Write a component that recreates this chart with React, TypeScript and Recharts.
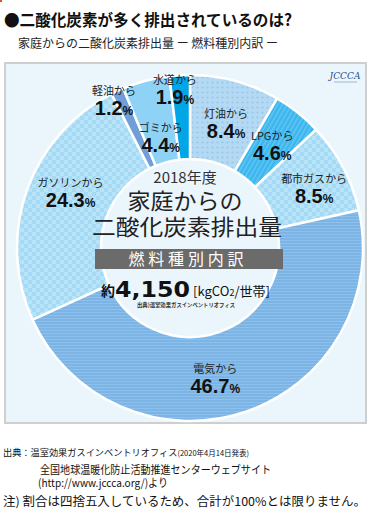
import { PieChart, Pie, Cell } from "recharts";

const sources = ["灯油", "LPG", "都市ガス", "電気", "ガソリン", "軽油", "ゴミ", "水道"];
const shares = [8.4, 4.6, 8.5, 46.7, 24.3, 1.2, 4.4, 1.9];

const data = sources.map((name, i) => ({ name, value: shares[i] }));

const FILLS = [
  "url(#dots)",
  "url(#diag)",
  "url(#check)",
  "url(#hlines)",
  "url(#check)",
  "#6f9fd6",
  "#8ed3f5",
  "#00a6e6",
];

// label placement: [radius, angle nudge in degrees, clockwise]
const LABEL_POS: Array<[number, number]> = [
  [130, 1],
  [132, 0],
  [138, 2],
  [132, 7.5],
  [132, 6],
  [166, -2.4],
  [115, 0],
  [160, -2],
];

const JP = "'Noto Sans CJK JP', sans-serif";

const renderLabel = (p: any) => {
  const [r, nudge] = LABEL_POS[p.index];
  const a = ((p.midAngle - nudge) * Math.PI) / 180;
  const x = p.cx + r * Math.cos(a);
  const y = p.cy - r * Math.sin(a);
  return (
    <g key={`lbl-${p.index}`}>
      <text x={x} y={y - 5} textAnchor="middle" fontSize={11} fontFamily={JP} fill="#222">
        {sources[p.index]}から
      </text>
      <text
        x={x}
        y={y + 15}
        textAnchor="middle"
        fontFamily="'Liberation Sans', Arial, sans-serif"
        fontWeight="bold"
        fontSize={20}
        fill="#111"
      >
        {shares[p.index].toFixed(1)}
        <tspan fontSize={12}>%</tspan>
      </text>
    </g>
  );
};

export default function App() {
  return (
    <div style={{ position: "absolute", left: 0, top: 0, width: 372, height: 520, background: "#fff" }}>
      <div
        style={{
          position: "absolute",
          left: 4,
          top: 62,
          width: 363,
          height: 362,
          boxSizing: "border-box",
          border: "2px solid #cfcfcf",
          background: "#ebf6fc",
        }}
      />
      <div style={{ position: "absolute", left: 0, top: 0 }}>
        <PieChart width={372} height={440}>
          <defs>
            <pattern id="dots" width="5" height="5" patternUnits="userSpaceOnUse">
              <rect width="5" height="5" fill="#b4d9f3" />
              <circle cx="2.5" cy="2.5" r="1.1" fill="#98c7ec" />
            </pattern>
            <pattern id="diag" width="4" height="4" patternUnits="userSpaceOnUse" patternTransform="rotate(30)">
              <rect width="4" height="4" fill="#3bb6ee" />
              <rect width="1.5" height="4" fill="#62c6f3" />
            </pattern>
            <pattern id="check" width="8" height="8" patternUnits="userSpaceOnUse">
              <rect width="8" height="8" fill="#a5daf6" />
              <rect width="4" height="4" fill="#b9e4f8" />
              <rect x="4" y="4" width="4" height="4" fill="#b9e4f8" />
            </pattern>
            <pattern id="hlines" width="3" height="3" patternUnits="userSpaceOnUse">
              <rect width="3" height="3" fill="#7cb4e5" />
              <rect width="3" height="1" fill="#8dc0ea" />
            </pattern>
          </defs>
          <Pie
            data={data}
            dataKey="value"
            nameKey="name"
            cx={185}
            cy={243}
            outerRadius={173}
            innerRadius={89}
            startAngle={90}
            endAngle={-270}
            stroke="#ffffff"
            strokeWidth={2.5}
            label={renderLabel}
            labelLine={false}
            isAnimationActive={false}
          >
            {data.map((d, i) => (
              <Cell key={d.name} fill={FILLS[i]} />
            ))}
          </Pie>
        </PieChart>
      </div>
      <svg
        width={372}
        height={520}
        style={{ position: "absolute", left: 0, top: 0, pointerEvents: "none", fontFamily: JP }}
      >
        <rect x={0} y={0} width={2} height={2} fill="#e8501a" />
        <text x={4} y={26} fontSize={16} fontWeight="bold" fill="#111" textLength={288} lengthAdjust="spacingAndGlyphs">
          ●二酸化炭素が多く排出されているのは?
        </text>
        <text x={18} y={47.5} fontSize={12} fill="#222" textLength={260} lengthAdjust="spacingAndGlyphs">
          家庭からの二酸化炭素排出量 ー 燃料種別内訳 ー
        </text>

        {/* logo */}
        <text x={345} y={79} textAnchor="middle" fontSize={9} fontStyle="italic" fontFamily="'DejaVu Serif', serif" fill="#2b4c8c">
          JCCCA
        </text>
        <line x1={334} y1={82} x2={357} y2={82} stroke="#7d9cc4" strokeWidth={0.7} />

        {/* center */}
        <text x={185} y={183} textAnchor="middle" fontSize={15} fill="#333" fontFamily={JP}>
          2018年度
        </text>
        <text x={185} y={209} textAnchor="middle" fontSize={22} fill="#222" textLength={115} lengthAdjust="spacingAndGlyphs">
          家庭からの
        </text>
        <text x={187} y={235} textAnchor="middle" fontSize={22} fill="#222" textLength={190} lengthAdjust="spacingAndGlyphs">
          二酸化炭素排出量
        </text>
        <rect x={95} y={249} width={188} height={20} fill="#6b6b6b" />
        <text x={186} y={265} textAnchor="middle" fontSize={16} fill="#fff" textLength={115} lengthAdjust="spacing">
          燃料種別内訳
        </text>
        <text x={101} y={296} fontSize={14} fontWeight="bold" fill="#111">
          約
        </text>
        <text
          x={115}
          y={297}
          fontSize={22}
          fontWeight="bold"
          fontFamily="'DejaVu Sans', sans-serif"
          fill="#111"
          textLength={75}
          lengthAdjust="spacingAndGlyphs"
        >
          4,150
        </text>
        <text x={193} y={296} fontSize={13} fill="#111" textLength={77} lengthAdjust="spacingAndGlyphs">
          [kgCO<tspan fontSize={9}>2</tspan>/世帯]
        </text>
        <text x={186} y={307} textAnchor="middle" fontSize={5.5} fontWeight="bold" fill="#333" textLength={98} lengthAdjust="spacingAndGlyphs">
          出典)温室効果ガスインベントリオフィス
        </text>

        {/* footer */}
        <text x={3} y={456} fontSize={9.2} fill="#111">
          出典：温室効果ガスインベントリオフィス<tspan fontSize={7.5}>(2020年4月14日発表)</tspan>
        </text>
        <text x={40} y={474} fontSize={11} fill="#111" textLength={231} lengthAdjust="spacingAndGlyphs">
          全国地球温暖化防止活動推進センターウェブサイト
        </text>
        <text x={38} y={487} fontSize={11} fill="#111" textLength={130} lengthAdjust="spacingAndGlyphs">
          (http://www.jccca.org/)より
        </text>
        <text x={3} y={506} fontSize={12} fill="#111" textLength={363} lengthAdjust="spacingAndGlyphs">
          注) 割合は四捨五入しているため、合計が100%とは限りません。
        </text>
      </svg>
    </div>
  );
}
